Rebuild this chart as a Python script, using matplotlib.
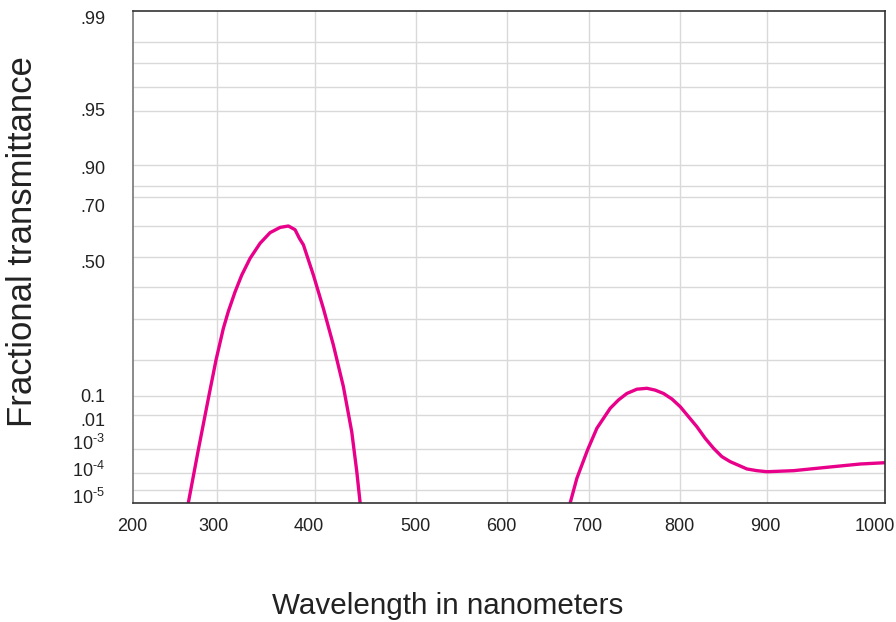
import numpy as np
import matplotlib
matplotlib.use("Agg")
import matplotlib.pyplot as plt
from matplotlib.ticker import FixedLocator, FixedFormatter
from matplotlib.transforms import ScaledTranslation

plt.rcParams['font.family'] = ['Liberation Sans', 'DejaVu Sans']
plt.rcParams['mathtext.fontset'] = 'custom'
plt.rcParams['mathtext.rm'] = 'Liberation Sans'
plt.rcParams['mathtext.it'] = 'Liberation Sans'
plt.rcParams['mathtext.default'] = 'regular'

# ---- data ----
band1_nm = [265.8, 277.7, 290.1, 298.8, 306.4, 311.5, 318.4, 325.2, 333.7, 343.9,
            354.1, 364.3, 372.8, 379.6, 384.0, 388.1, 398.3, 408.2, 418.1, 428.0,
            436.3, 441.3, 444.6]
band1_T = [1e-6, 9.1e-4, 0.092, 0.20, 0.273, 0.321, 0.383, 0.437, 0.495, 0.542,
           0.577, 0.595, 0.600, 0.587, 0.558, 0.537, 0.437, 0.330, 0.232, 0.120,
           3.2e-3, 1.13e-4, 1e-6]

band2_nm = [676.8, 685.0, 698.0, 708.5, 723.1, 732.2, 741.4, 752.4, 763.4, 772.5,
            781.6, 790.9, 800.0, 819.2, 828.7, 838.3, 847.9, 857.5, 876.7, 888.2,
            899.7, 923.9, 954.3, 984.5, 1007.3]
band2_T = [1e-6, 4.9e-5, 9.1e-4, 4.1e-3, 0.0225, 0.062, 0.105, 0.114, 0.116, 0.112,
           0.105, 0.0695, 0.0274, 4.5e-3, 2.06e-3, 1.05e-3, 4.8e-4, 2.96e-4, 1.47e-4,
           1.25e-4, 1.13e-4, 1.25e-4, 1.73e-4, 2.37e-4, 2.69e-4]

x_ticks = [200, 300, 400, 500, 600, 700, 800, 900, 1000]
x_tick_labels = ['200', '300', '400', '500', '600', '700', '800', '900', '1000']
x_grid = [300, 400, 500, 600, 700, 800, 900]
y_ticks = [0.99, 0.95, 0.90, 0.70, 0.50, 0.1, 0.01, 1e-3, 1e-4, 1e-5]
y_tick_labels = ['.99', '.95', '.90', '.70', '.50', '0.1', '.01',
                 r'$10^{\text{-3}}$', r'$10^{\text{-4}}$', r'$10^{\text{-5}}$']
y_grid = [0.98, 0.97, 0.96, 0.95, 0.90, 0.80, 0.70, 0.60, 0.50, 0.40, 0.30, 0.20,
          0.10, 0.01, 1e-3, 1e-4, 1e-5]

# ---- non-uniform axis scales of the original chart ----
xs_nm = np.array([100, 200, 300, 400, 500, 600, 700, 800, 900, 1000, 1100], float)
xs_pos = np.array([49, 133, 217, 315, 416, 507, 589, 680, 767, 877, 987], float)

ys_T = np.array([1e-8, 1e-6, 1e-5, 1e-4, 1e-3, 0.01, 0.10, 0.20, 0.30, 0.40, 0.50,
                 0.60, 0.70, 0.80, 0.90, 0.95, 0.96, 0.97, 0.98, 0.99, 0.995, 0.999])
ys_px = np.array([530, 503, 490, 473, 449, 415, 396, 360, 319, 287, 257,
                  226, 197, 186, 165, 111, 87, 63, 42, 18, 11, 0], float)
ys_log = np.log10(ys_T)
ys_pos = 503 - ys_px


def xf(v):
    return np.interp(v, xs_nm, xs_pos)


def xi(p):
    return np.interp(p, xs_pos, xs_nm)


def yf(v):
    v = np.clip(np.asarray(v, float), 1e-12, 0.9999)
    return np.interp(np.log10(v), ys_log, ys_pos)


def yi(p):
    return 10 ** np.interp(p, ys_pos, ys_log)


W, H = 896, 622
fig = plt.figure(figsize=(W / 100, H / 100), dpi=100)
ax = fig.add_axes([133 / W, (H - 503) / H, (885 - 133) / W, (503 - 11) / H])

ax.set_xscale('function', functions=(xf, xi))
ax.set_yscale('function', functions=(yf, yi))

pink = '#E8008A'
for nm, T in ((band1_nm, band1_T), (band2_nm, band2_T)):
    ax.plot(nm, T, color=pink, lw=2.4, solid_joinstyle='round',
            solid_capstyle='round')

ax.set_xlim(200, 1007)
ax.set_ylim(1e-6, 0.995)

ax.xaxis.remove_overlapping_locs = False
ax.yaxis.remove_overlapping_locs = False
ax.xaxis.set_major_locator(FixedLocator(x_ticks))
ax.xaxis.set_major_formatter(FixedFormatter(x_tick_labels))
ax.xaxis.set_minor_locator(FixedLocator(x_grid))
ax.yaxis.set_major_locator(FixedLocator(y_ticks))
ax.yaxis.set_major_formatter(FixedFormatter(y_tick_labels))
ax.yaxis.set_minor_locator(FixedLocator(y_grid))

gcol = '#d9d9d9'
ax.grid(False, which='major')
ax.grid(True, which='minor', color=gcol, lw=1)
ax.set_axisbelow(True)

ax.tick_params(axis='x', which='major', length=0, pad=11, labelsize=13, labelcolor='#222222')
ax.tick_params(axis='y', which='major', length=0, pad=20, labelsize=13, labelcolor='#222222')
ax.tick_params(which='minor', length=0)

for s in ['top', 'right', 'bottom']:
    ax.spines[s].set_color('#333333')
    ax.spines[s].set_linewidth(1.2)
ax.spines['left'].set_color('#777777')
ax.spines['left'].set_linewidth(1.2)

# small per-label nudges (pixels) to follow the original label placement
y_nudge = [0, -1, 2, 8, 5, -1, 5, -7, -4, 6]
x_nudge = [-1, -4, -6, -1, -6, -2, -1, -2, -2]
fig.canvas.draw()
for lab, d in zip(ax.yaxis.get_majorticklabels(), y_nudge):
    lab.set_transform(lab.get_transform() + ScaledTranslation(0, -d / 100, fig.dpi_scale_trans))
for lab, d in zip(ax.xaxis.get_majorticklabels(), x_nudge):
    lab.set_transform(lab.get_transform() + ScaledTranslation(d / 100, 0, fig.dpi_scale_trans))

fig.text(23 / W, 1 - 242 / H, 'Fractional transmittance', rotation=90,
         ha='center', va='center', fontsize=25, color='#222222')
fig.text(448 / W, 1 - 606 / H, 'Wavelength in nanometers',
         ha='center', va='center', fontsize=21.3, color='#222222')

fig.savefig('out.png', dpi=100)
